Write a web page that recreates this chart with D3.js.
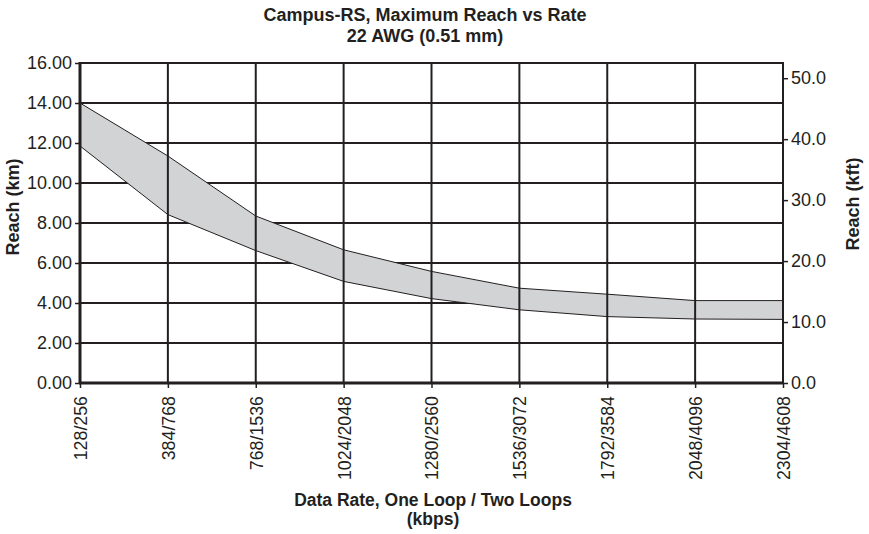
<!DOCTYPE html>
<html>
<head>
<meta charset="utf-8">
<script src="https://cdn.jsdelivr.net/npm/d3@7/dist/d3.min.js"></script>
<style>
  html, body { margin: 0; padding: 0; background: #ffffff; }
  svg { display: block; }
  text { font-family: "Liberation Sans", Arial, Helvetica, sans-serif; fill: #231f20; }
</style>
</head>
<body>
<svg id="chart" width="869" height="534"></svg>
<script>
const categories = ["128/256", "384/768", "768/1536", "1024/2048", "1280/2560", "1536/3072", "1792/3584", "2048/4096", "2304/4608"];
const upperReach = [14.0, 11.35, 8.35, 6.66, 5.58, 4.74, 4.44, 4.12, 4.12];
const lowerReach = [11.85, 8.42, 6.62, 5.08, 4.22, 3.66, 3.32, 3.20, 3.18];
const leftTicks = [0, 2, 4, 6, 8, 10, 12, 14, 16];
const rightTicks = [0, 10, 20, 30, 40, 50];
const titleLines = ["Campus-RS, Maximum Reach vs Rate", "22 AWG (0.51 mm)"];
const xTitleLines = ["Data Rate, One Loop / Two Loops", "(kbps)"];
const leftTitle = "Reach (km)";
const rightTitle = "Reach (kft)";
const kmPerKft = 0.3048;

const svg = d3.select("#chart");
const L = 80, R = 783, T = 63, B = 383;
const ink = "#231f20";

const x = d3.scalePoint().domain(categories).range([L, R]);
const y = d3.scaleLinear().domain([0, 16]).range([B, T]);
const yR = d3.scaleLinear().domain([0, 16 / kmPerKft]).range([B, T]);

const data = categories.map((c, i) => ({ c, hi: upperReach[i], lo: lowerReach[i] }));

// horizontal gridlines (below band)
svg.append("g").selectAll("line").data(leftTicks.filter(d => d > 0)).join("line")
  .attr("x1", L).attr("x2", R)
  .attr("y1", d => y(d)).attr("y2", d => y(d))
  .attr("stroke", ink).attr("stroke-width", 2);

// band
const area = d3.area().x(d => x(d.c)).y0(d => y(d.lo)).y1(d => y(d.hi));
svg.append("path").datum(data).attr("d", area).attr("fill", "#d1d3d4");
const lineHi = d3.line().x(d => x(d.c)).y(d => y(d.hi));
const lineLo = d3.line().x(d => x(d.c)).y(d => y(d.lo));
svg.append("path").datum(data).attr("d", lineHi).attr("fill", "none").attr("stroke", ink).attr("stroke-width", 1);
svg.append("path").datum(data).attr("d", lineLo).attr("fill", "none").attr("stroke", ink).attr("stroke-width", 1);

// vertical gridlines (above band)
svg.append("g").selectAll("line").data(categories.slice(1, -1)).join("line")
  .attr("x1", d => x(d)).attr("x2", d => x(d))
  .attr("y1", T).attr("y2", B)
  .attr("stroke", ink).attr("stroke-width", 2);

// right border
svg.append("line").attr("x1", R).attr("x2", R).attr("y1", T - 1).attr("y2", B)
  .attr("stroke", ink).attr("stroke-width", 2);

// left axis
const gL = svg.append("g").attr("transform", `translate(${L},0)`)
  .call(d3.axisLeft(y).tickValues(leftTicks).tickFormat(d3.format(".2f")).tickSize(5).tickPadding(3));
gL.select(".domain").attr("stroke", ink).attr("stroke-width", 3).attr("d", `M0,${T - 1}V${B + 1}`);
gL.selectAll(".tick line").attr("stroke", ink).attr("stroke-width", 1.5);
gL.selectAll(".tick text").attr("font-size", 18).attr("fill", ink)
  .attr("font-family", "'Liberation Sans', Arial, sans-serif");

// right axis (kft)
const gR = svg.append("g").attr("transform", `translate(${R},0)`)
  .call(d3.axisRight(yR).tickValues(rightTicks).tickFormat(d3.format(".1f")).tickSize(5).tickPadding(3));
gR.select(".domain").remove();
gR.selectAll(".tick line").attr("stroke", ink).attr("stroke-width", 1.5);
gR.selectAll(".tick text").attr("font-size", 18).attr("fill", ink)
  .attr("font-family", "'Liberation Sans', Arial, sans-serif");

// bottom axis
const gB = svg.append("g").attr("transform", `translate(0,${B})`)
  .call(d3.axisBottom(x).tickSize(5).tickPadding(0));
gB.select(".domain").attr("stroke", ink).attr("stroke-width", 3).attr("d", `M${L - 1},0H${R + 1}`);
gB.selectAll(".tick line").attr("stroke", ink).attr("stroke-width", 1.5);
gB.selectAll(".tick text")
  .attr("font-size", 17.8).attr("fill", ink)
  .attr("font-family", "'Liberation Sans', Arial, sans-serif")
  .attr("text-anchor", "end")
  .attr("transform", "translate(0,13) rotate(-90)")
  .attr("x", 0).attr("y", 0).attr("dy", "0.36em");

// top border
svg.append("line").attr("x1", L).attr("x2", R).attr("y1", T).attr("y2", T)
  .attr("stroke", ink).attr("stroke-width", 2);

// titles
svg.append("g").selectAll("text").data(titleLines).join("text")
  .attr("x", 425).attr("y", (d, i) => 21 + i * 21)
  .attr("text-anchor", "middle").attr("font-size", 18).attr("font-weight", "bold")
  .text(d => d);

svg.append("g").selectAll("text").data(xTitleLines).join("text")
  .attr("x", 433).attr("y", (d, i) => 506 + i * 19)
  .attr("text-anchor", "middle").attr("font-size", 17.5).attr("font-weight", "bold")
  .text(d => d);

svg.append("text").attr("transform", "translate(19,207) rotate(-90)")
  .attr("text-anchor", "middle").attr("font-size", 18).attr("font-weight", "bold")
  .text(leftTitle);

svg.append("text").attr("transform", "translate(859,204) rotate(-90)")
  .attr("text-anchor", "middle").attr("font-size", 18).attr("font-weight", "bold")
  .text(rightTitle);
</script>
</body>
</html>
